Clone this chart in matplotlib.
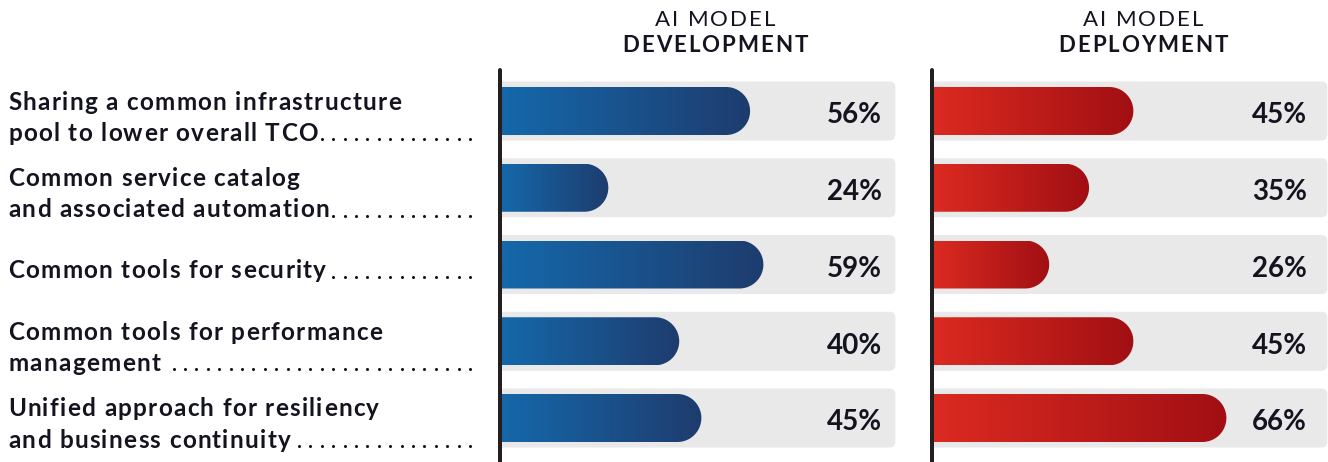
import matplotlib.pyplot as plt
import numpy as np
from matplotlib.patches import FancyBboxPatch, Polygon
from matplotlib.colors import LinearSegmentedColormap
from matplotlib import transforms

# --- data -------------------------------------------------------------
categories = [
    "Sharing a common infrastructure\npool to lower overall TCO",
    "Common service catalog\nand associated automation",
    "Common tools for security",
    "Common tools for performance\nmanagement",
    "Unified approach for resiliency\nand business continuity",
]
development = [56, 24, 59, 40, 45]
deployment = [45, 35, 26, 45, 66]
panel_titles = [("AI MODEL", "DEVELOPMENT"), ("AI MODEL", "DEPLOYMENT")]

# --- look -------------------------------------------------------------
W, H, DPI = 1328, 462, 100
FONT = "Lato"
INK = "#13141f"
LINE = "#231f20"
TRACK_BG = "#e9e9e9"
BLUE = ["#1568aa", "#1e3c6e"]
RED = ["#db2a21", "#a10f13"]

PX_X = 4.43          # pixels per percent
ROW = 76.75          # pixels between rows
BAR_H = 48 / ROW
BG_H = 59 / ROW
BG_END = 88.8
XMAX = 90
AX_TOP = 70          # pixel row where the axis line starts
FIRST_ROW = 111      # pixel centre of first row

fig = plt.figure(figsize=(W / DPI, H / DPI), dpi=DPI)
fig.patch.set_facecolor("white")
renderer = fig.canvas.get_renderer()


def px(x):
    return x / W


def py(y):
    return 1 - y / H


ylim = ((H - FIRST_ROW) / ROW, (AX_TOP - FIRST_ROW) / ROW)


def make_panel(left_px):
    ax = fig.add_axes([px(left_px), 0, XMAX * PX_X / W, (H - AX_TOP) / H])
    ax.axis("off")
    return ax


def draw_panel(ax, values, colors, pct_x):
    cmap = LinearSegmentedColormap.from_list("g", colors)
    grad = np.linspace(0, 1, 256).reshape(1, -1)
    r = 24 / PX_X
    ry = BAR_H / 2
    for i, v in enumerate(values):
        bg = FancyBboxPatch((-3, i - BG_H / 2), BG_END + 3, BG_H,
                            boxstyle=f"round,pad=0,rounding_size={6 / PX_X}",
                            mutation_aspect=PX_X / ROW,
                            fc=TRACK_BG, ec="none", zorder=1)
        ax.add_patch(bg)
        # bar outline: square left end, round right end
        t = np.linspace(-np.pi / 2, np.pi / 2, 60)
        cap = np.column_stack([v - r + r * np.cos(t), i + ry * np.sin(t)])
        pts = np.vstack([[[-5, i - ry]], cap, [[-5, i + ry]]])
        clip = Polygon(pts, closed=True, transform=ax.transData)
        im = ax.imshow(grad, cmap=cmap, aspect="auto", interpolation="bilinear",
                       extent=(0, v, i + ry, i - ry), zorder=2)
        im.set_clip_path(clip)
        ax.text(pct_x, i + 12.3 / ROW, f"{v}%", ha="right", va="baseline",
                fontsize=20, fontweight="bold", family=FONT, color=INK, zorder=3)
    ax.axvline(-2 / PX_X, color=LINE, lw=4 * 0.72, solid_capstyle="round",
               clip_on=False, zorder=4)
    ax.set_xlim(0, XMAX)
    ax.set_ylim(*ylim)


ax1 = make_panel(502)
ax2 = make_panel(934)
draw_panel(ax1, development, BLUE, (882 - 502) / PX_X)
draw_panel(ax2, deployment, RED, (1307 - 934) / PX_X)


# --- letter-spaced text helpers ----------------------------------------
def text_width(s, **kw):
    t = fig.text(0, 0, s, **kw)
    w = t.get_window_extent(renderer=renderer).width
    t.remove()
    return w


def tracked(s, x0, y, track, transform, **kw):
    """Draw s char by char from pixel x0; return pixel x of the end."""
    for i, ch in enumerate(s):
        if ch == " ":
            continue
        off = text_width(s[:i + 1], **kw) - text_width(ch, **kw)
        fig.text(px(x0 + off + i * track), y, ch, ha="left", va="baseline",
                 transform=transform, **kw)
    return x0 + text_width(s, **kw) + track * (len(s) - 1)


# --- category labels with dot leaders ----------------------------------
lab_tr = transforms.blended_transform_factory(fig.transFigure, ax1.transData)
label_kw = dict(fontsize=17.5, fontweight="bold", family=FONT, color=INK)
CAP, PITCH = 17, 31
for i, cat in enumerate(categories):
    lines = cat.split("\n")
    n = len(lines)
    last_base = 5.5 + (CAP + (n - 1) * PITCH) / 2
    for k, line in enumerate(lines):
        base = last_base - (n - 1 - k) * PITCH
        x_end = tracked(line, 8, i + base / ROW, 1.3, lab_tr, **label_kw)
    xs = []
    x = 470.0
    while x > x_end + 2:
        xs.append(px(x))
        x -= 11.4
    ax1.plot(xs, [i + (last_base - 1.5) / ROW] * len(xs), transform=lab_tr,
             ls="none", marker="o", ms=2.2, mec="none", color=INK, clip_on=False)

# --- panel headers -----------------------------------------------------
for (light, bold), xc in zip(panel_titles, [715, 1143]):
    for s, yb, kw in [(light, 26, dict(fontsize=16)),
                      (bold, 52, dict(fontsize=16, fontweight="bold"))]:
        kw.update(family=FONT, color=INK)
        full = text_width(s, **kw) + 2.0 * (len(s) - 1)
        tracked(s, xc - full / 2, py(yb), 2.0, fig.transFigure, **kw)

fig.savefig("out.png", dpi=DPI, facecolor="white")
